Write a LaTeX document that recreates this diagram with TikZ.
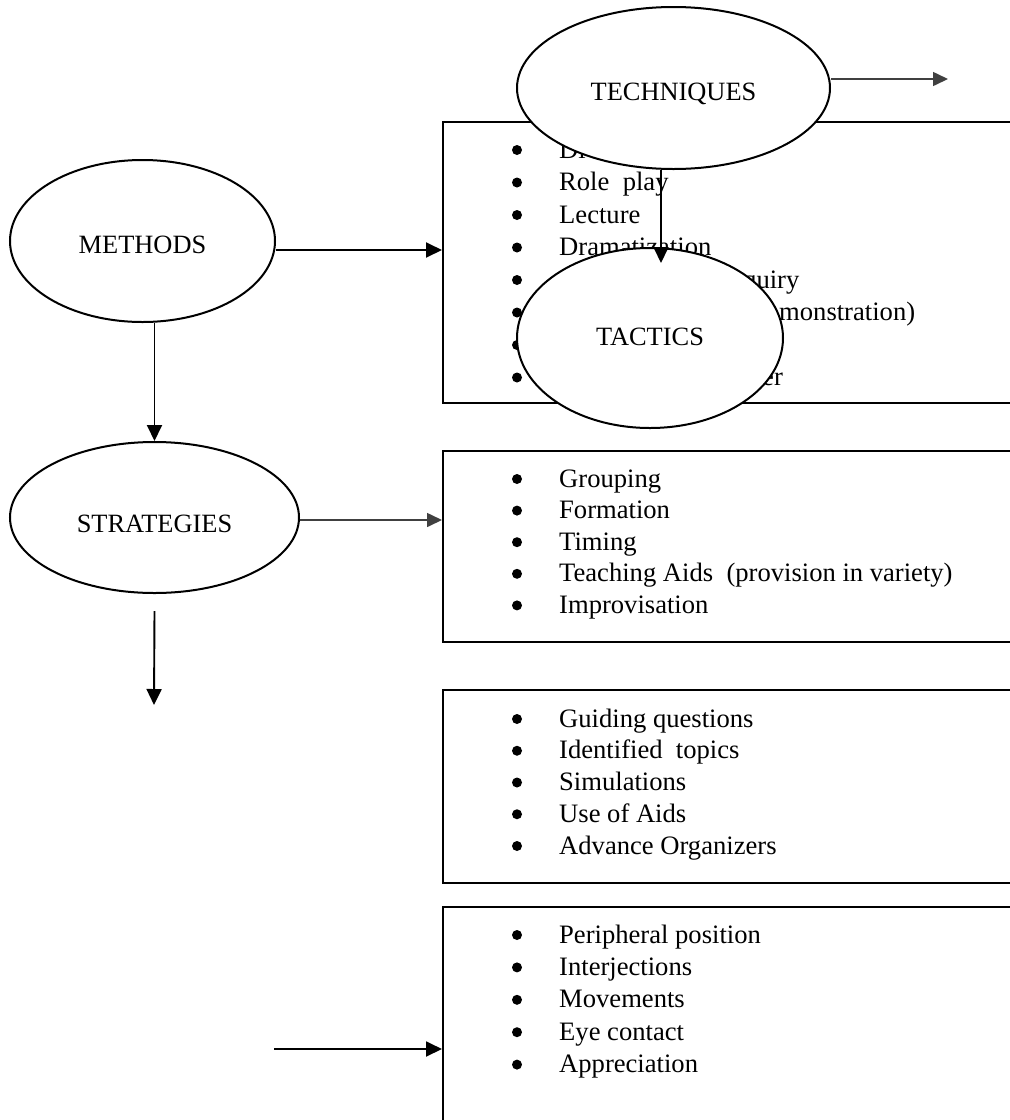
\documentclass[tikz,border=0pt]{standalone}
\usepackage{fontspec}
\setmainfont{Liberation Serif}
\usetikzlibrary{arrows.meta,shapes.geometric}
\definecolor{arrgray}{RGB}{64,64,64}
\begin{document}
\begin{tikzpicture}[x=1pt,y=-1pt,
  oval/.style={ellipse, draw, line width=2pt, fill=white, inner sep=0pt,
    font=\fontsize{26.4}{30}\selectfont, text depth=0pt},
  listbox/.style={draw, line width=2pt, anchor=north west, inner sep=0pt,
    minimum width=620pt},
  item/.style={anchor=base west, inner sep=0pt, font=\fontsize{26.6}{30}\selectfont},
  blt/.style={circle, fill=black, inner sep=0pt, minimum size=10pt},
  arr/.style={line width=1.9pt, -{Triangle[length=16pt,width=15pt]}},
  garr/.style={draw=arrgray, line width=1.6pt, -{Triangle[length=15pt,width=14pt]}, fill=arrgray}
]
\useasboundingbox (0,0) rectangle (1010,1120);
\clip (0,0) rectangle (1010,1120);

% list boxes
\node[listbox, minimum height=281pt] (box1) at (442,121) {};
\node[listbox, minimum height=191pt] (box2) at (442,450) {};
\node[listbox, minimum height=193pt] (box3) at (442,689) {};
\node[listbox, minimum height=260pt] (box4) at (442,906) {};

% box 1 items (partly hidden by the ellipses)
\foreach \k in {0,...,7} {
  \node[blt] (ba\k) at (517,150+32.5*\k) {};
}
\node[item] (ta0) at (559,158) {Di};
\node[item] (ta1) at (559,190.5) {Role\ \ play};
\node[item] (ta2) at (559,223) {Lecture};
\node[item] (ta3) at (559,255.5) {Dramatization};
\node[item] (ta4) at (743,288) {quiry};
\node[item] (ta5) at (779,320.5) {monstration)};
\node[item] (ta7) at (762,385.5) {er};

% box 2 items
\foreach \t [count=\k from 0] in {Grouping,Formation,Timing,Teaching Aids\ \ (provision in variety),Improvisation} {
  \node[blt] (bb\k) at (517,479+31.6*\k) {};
  \node[item] (tb\k) at (559,487+31.6*\k) {\t};
}
% box 3 items
\foreach \t [count=\k from 0] in {Guiding questions,Identified\ \ topics,Simulations,Use of Aids,Advance Organizers} {
  \node[blt] (bc\k) at (517,719+31.75*\k) {};
  \node[item] (tc\k) at (559,727+31.75*\k) {\t};
}
% box 4 items
\foreach \t [count=\k from 0] in {Peripheral position,Interjections,Movements,Eye contact,Appreciation} {
  \node[blt] (bd\k) at (517,935+32.4*\k) {};
  \node[item] (td\k) at (559,943+32.4*\k) {\t};
}

% ellipses
\node[oval, minimum width=265pt, minimum height=162pt, text height=25.5pt] (methods) at (142.5,241) {METHODS};
\node[oval, minimum width=289pt, minimum height=151pt, text height=30.5pt] (strategies) at (154.5,517.5) {STRATEGIES};
\node[oval, minimum width=313pt, minimum height=162pt, text height=25.5pt] (techniques) at (673.5,88) {TECHNIQUES};
\node[oval, minimum width=266pt, minimum height=180pt, text height=15.5pt] (tactics) at (650,338) {TACTICS};

% connectors
\coordinate (m1) at ([yshift=-9pt]methods.east);
\draw[arr] (m1) -- (m1 -| box1.west);
\draw[arr] (strategies.north |- methods.south) -- (strategies.north);
\coordinate (s1) at ([yshift=-2.5pt]strategies.east);
\draw[garr] (s1) -- (s1 -| box2.west);
\coordinate (sd) at (154,705);
\draw[arr] ([yshift=-17pt]strategies.south) -- (sd);
\coordinate (bstart) at (274,1049);
\draw[arr] (bstart) -- (bstart -| box4.west);
\coordinate (tend) at (948,79);
\draw[garr] ([yshift=9pt]techniques.east) -- (tend);
\coordinate (ttip) at (661,263);
\draw[arr] (ttip |- techniques.south) -- (ttip);
\end{tikzpicture}
\end{document}
